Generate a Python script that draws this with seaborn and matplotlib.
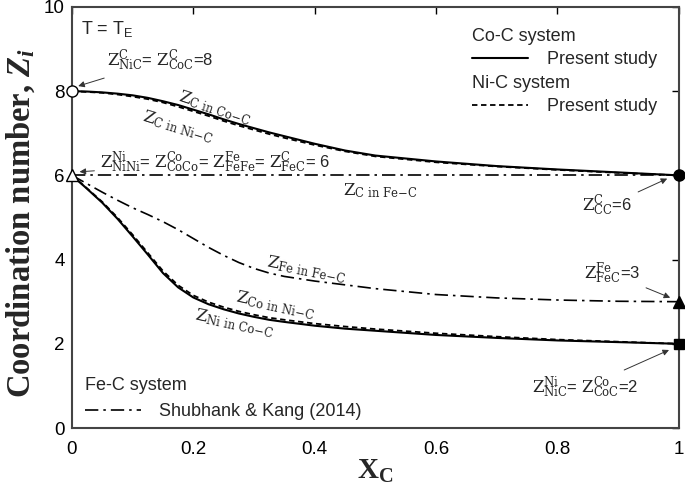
import numpy as np
import pandas as pd
import matplotlib
matplotlib.use('Agg')
import matplotlib.pyplot as plt
import seaborn as sns
from matplotlib.lines import Line2D

# Values
x_c = [0.0, 0.025, 0.05, 0.075, 0.1, 0.125, 0.15, 0.175, 0.2, 0.225, 0.25, 0.275, 0.3, 0.325,
       0.35, 0.4, 0.45, 0.5, 0.6, 0.7, 0.8, 0.9, 1.0]
z_c_co = [8.0, 7.99, 7.97, 7.94, 7.9, 7.84, 7.76, 7.67, 7.56, 7.45, 7.33, 7.22, 7.12, 7.02,
          6.93, 6.75, 6.59, 6.47, 6.33, 6.22, 6.14, 6.07, 6.0]
z_c_ni = [8.0, 7.98, 7.96, 7.92, 7.87, 7.81, 7.73, 7.63, 7.52, 7.41, 7.29, 7.18, 7.08, 6.98,
          6.89, 6.72, 6.57, 6.45, 6.31, 6.21, 6.13, 6.06, 6.0]
z_ni_co = [6.0, 5.68, 5.35, 4.97, 4.55, 4.12, 3.68, 3.34, 3.1, 2.94, 2.82, 2.72, 2.64, 2.57,
           2.52, 2.43, 2.36, 2.31, 2.21, 2.14, 2.08, 2.04, 2.0]
z_co_ni = [6.0, 5.69, 5.37, 5.0, 4.59, 4.16, 3.73, 3.39, 3.15, 2.99, 2.87, 2.77, 2.69, 2.62,
           2.57, 2.48, 2.41, 2.35, 2.25, 2.17, 2.1, 2.05, 2.0]
z_fe_fe = [6.0, 5.8, 5.6, 5.41, 5.23, 5.07, 4.9, 4.71, 4.5, 4.29, 4.1, 3.93, 3.79, 3.68,
           3.6, 3.49, 3.4, 3.31, 3.17, 3.09, 3.04, 3.01, 3.0]
z_c_fe = [6.0] * len(x_c)

end_x = [0, 0, 1, 1, 1]
end_y = [8, 6, 6, 3, 2]

sns.set_theme(style='white')
plt.rcParams['font.family'] = ['Liberation Sans', 'DejaVu Sans']
plt.rcParams['mathtext.fontset'] = 'custom'
plt.rcParams['mathtext.rm'] = 'DejaVu Serif'
plt.rcParams['mathtext.it'] = 'DejaVu Serif:italic'
plt.rcParams['mathtext.bf'] = 'Liberation Serif:bold'
plt.rcParams['mathtext.bfit'] = 'Liberation Serif:bold:italic'

fig = plt.figure(figsize=(6.85, 4.92), dpi=100)
ax = fig.add_axes([0.105, 0.13, 0.886, 0.856])

df = pd.DataFrame({'x': x_c, 'cco': z_c_co, 'cni': z_c_ni, 'nico': z_ni_co,
                   'coni': z_co_ni, 'fefe': z_fe_fe, 'cfe': z_c_fe})

dashdot = (8, 3, 1.5, 3)
sns.lineplot(data=df, x='x', y='cco', ax=ax, color='black', lw=1.5)
sns.lineplot(data=df, x='x', y='cni', ax=ax, color='black', lw=1.3, linestyle=(0, (3, 2)))
sns.lineplot(data=df, x='x', y='nico', ax=ax, color='black', lw=1.5)
sns.lineplot(data=df, x='x', y='coni', ax=ax, color='black', lw=1.3, linestyle=(0, (3, 2)))
sns.lineplot(data=df, x='x', y='fefe', ax=ax, color='black', lw=1.2, linestyle=(0, dashdot))
sns.lineplot(data=df, x='x', y='cfe', ax=ax, color='black', lw=1.2, linestyle=(0, dashdot))

# end-point markers
mk = ['o', '^', 'o', '^', 's']
fc = ['white', 'white', 'black', 'black', 'black']
for xi, yi, m, f in zip(end_x, end_y, mk, fc):
    ax.plot(xi, yi, marker=m, ms=8 if m != 's' else 6.5, mfc=f, mec='black',
            mew=1.0, clip_on=False, zorder=5)

ax.set_xlim(0, 1)
ax.set_ylim(0, 10)
ax.set_xticks([0, 0.2, 0.4, 0.6, 0.8, 1])
ax.set_xticklabels(['0', '0.2', '0.4', '0.6', '0.8', '1'])
ax.set_yticks([0, 2, 4, 6, 8, 10])
ax.tick_params(direction='in', length=5, width=1, top=True, right=True,
               labelsize=13.5, colors='black')
ax.tick_params(axis='x', pad=9)
ax.tick_params(axis='y', pad=5)
for s in ax.spines.values():
    s.set_color('#444444')
    s.set_linewidth(1.5)

ax.set_xlabel(r'X$_\mathbf{C}$', fontsize=21, fontweight='bold', family='Liberation Serif')
ax.xaxis.set_label_coords(0.5, -0.07)
ax.set_ylabel(r'Coordination number, $\mathbfit{Z_i}$',
              fontsize=23.5, fontweight='bold', family='Liberation Serif')
ax.yaxis.set_label_coords(-0.057, 0.487)

ax.text(0.015, 0.948, r'T = T$_\mathregular{E}$', transform=ax.transAxes, fontsize=13, va='center')

# legends
leg_kw = dict(frameon=False, fontsize=13, title_fontsize=13, handlelength=3.1,
              handletextpad=1.05, borderpad=0.3)
lg1 = ax.legend(handles=[Line2D([], [], color='black', lw=1.5)], labels=['Present study'],
                title='Co-C system', loc='upper left', bbox_to_anchor=(0.635, 0.985),
                labelspacing=0.37, **leg_kw)
lg1._legend_box.align = 'left'
ax.add_artist(lg1)
lg2 = ax.legend(handles=[Line2D([], [], color='black', lw=1.3, ls=(0, (3, 2)))], labels=['Present study'],
                title='Ni-C system', loc='upper left', bbox_to_anchor=(0.635, 0.873),
                labelspacing=0.37, **leg_kw)
lg2._legend_box.align = 'left'
ax.add_artist(lg2)
lg3 = ax.legend(handles=[Line2D([], [], color='black', lw=1.2, ls=(0, dashdot))], labels=['Shubhank & Kang (2014)'],
                title='Fe-C system', loc='lower left', bbox_to_anchor=(-0.003, -0.016),
                labelspacing=0.5, **leg_kw)
lg3._legend_box.align = 'left'

# curve labels
fs = 12
ax.text(0.235, 7.6, r'$\mathrm{Z_{C\ in\ Co\!-\!C}}$', fontsize=fs, rotation=-18, ha='center', va='center')
ax.text(0.175, 7.15, r'$\mathrm{Z_{C\ in\ Ni\!-\!C}}$', fontsize=fs, rotation=-17, ha='center', va='center')
ax.text(0.508, 5.64, r'$\mathrm{Z_{C\ in\ Fe\!-\!C}}$', fontsize=fs, ha='center', va='center')
ax.text(0.387, 3.76, r'$\mathrm{Z_{Fe\ in\ Fe\!-\!C}}$', fontsize=fs, rotation=-11, ha='center', va='center')
ax.text(0.335, 2.92, r'$\mathrm{Z_{Co\ in\ Ni\!-\!C}}$', fontsize=fs, rotation=-12, ha='center', va='center')
ax.text(0.268, 2.48, r'$\mathrm{Z_{Ni\ in\ Co\!-\!C}}$', fontsize=fs, rotation=-12, ha='center', va='center')

arr = dict(arrowstyle='-|>', color='#333333', lw=0.7, mutation_scale=9)
ax.annotate(r'$\mathrm{Z^{C}_{NiC}}$= $\mathrm{Z^{C}_{CoC}}$=8', xy=(0.006, 8.1), xytext=(0.058, 8.72),
            fontsize=fs, va='center', arrowprops=arr)
ax.annotate(r'$\mathrm{Z^{Ni}_{NiNi}}$= $\mathrm{Z^{Co}_{CoCo}}$= $\mathrm{Z^{Fe}_{FeFe}}$= $\mathrm{Z^{C}_{FeC}}$= 6',
            xy=(0.008, 6.08), xytext=(0.047, 6.3), fontsize=fs, va='center', arrowprops=arr)
ax.annotate(r'$\mathrm{Z^{C}_{CC}}$=6', xy=(0.985, 5.95), xytext=(0.882, 5.27),
            fontsize=fs, ha='center', va='center', arrowprops=arr)
ax.annotate(r'$\mathrm{Z^{Fe}_{FeC}}$=3', xy=(0.99, 3.07), xytext=(0.89, 3.66),
            fontsize=fs, ha='center', va='center', arrowprops=arr)
ax.annotate(r'$\mathrm{Z^{Ni}_{NiC}}$= $\mathrm{Z^{Co}_{CoC}}$=2', xy=(0.988, 1.88), xytext=(0.845, 0.96),
            fontsize=fs, ha='center', va='center', arrowprops=arr)

fig.savefig('out.png', dpi=100)
